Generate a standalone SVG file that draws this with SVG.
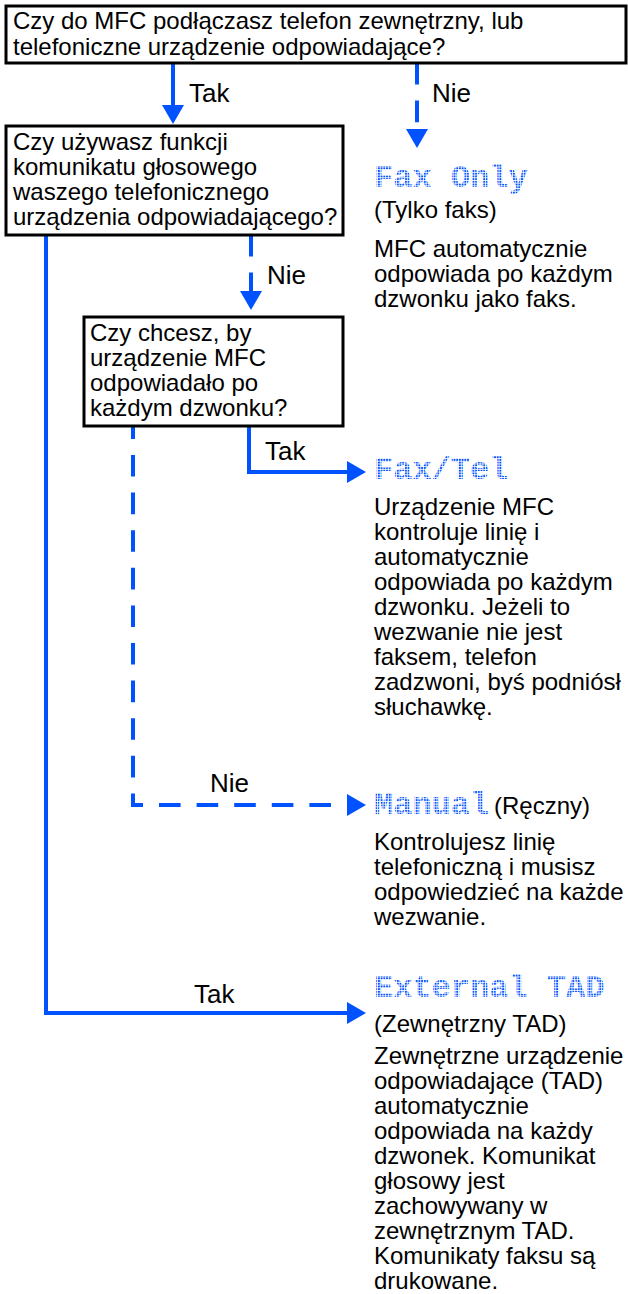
<svg xmlns="http://www.w3.org/2000/svg" width="628" height="1294" viewBox="0 0 628 1294">
<style>
.box{fill:#fff;stroke:#000;stroke-width:3}
.ln{fill:none;stroke:#0052ff;stroke-width:4}
.dash{stroke-dasharray:21.6 16}
.t{font-family:"Liberation Sans",Arial,sans-serif;font-size:24px;fill:#000}
.lb{font-family:"Liberation Sans",Arial,sans-serif;font-size:26px;fill:#000}
.m{font-family:"Liberation Mono","DejaVu Sans Mono",monospace;font-size:32px;font-weight:bold;fill:url(#dots)}
</style>
<defs>
<pattern id="dots" width="2.7" height="2.7" patternUnits="userSpaceOnUse"><rect width="1.9" height="1.9" fill="#0a55ff"/></pattern>
<marker id="ah" viewBox="0 0 19 22" refX="0" refY="11" markerWidth="19" markerHeight="22" markerUnits="userSpaceOnUse" orient="auto"><path d="M0,0 L19,11 L0,22 z" fill="#0052ff"/></marker>
</defs>
<g id="connectors">
<path class="ln" d="M173,63 V105" marker-end="url(#ah)"/>
<path class="ln dash" d="M417,63 V129" marker-end="url(#ah)"/>
<path class="ln dash" d="M251,235 V291" marker-end="url(#ah)"/>
<path class="ln" d="M249,426 V472 H347" marker-end="url(#ah)"/>
<path class="ln dash" d="M133,417.4 V805 H347" marker-end="url(#ah)"/>
<path class="ln" d="M46,235 V1013 H347" marker-end="url(#ah)"/>
</g>
<g id="labels">
<text class="lb" x="189" y="102">Tak</text>
<text class="lb" x="432" y="102">Nie</text>
<text class="lb" x="267" y="284">Nie</text>
<text class="lb" x="265" y="460">Tak</text>
<text class="lb" x="210" y="792">Nie</text>
<text class="lb" x="194" y="1003">Tak</text>
</g>
<g id="q1">
<rect class="box" x="6" y="6" width="620" height="57"/>
<text class="t" x="13" y="29">Czy do MFC podłączasz telefon zewnętrzny, lub</text>
<text class="t" x="13" y="55">telefoniczne urządzenie odpowiadające?</text>
</g>
<g id="q2">
<rect class="box" x="6" y="126" width="337" height="109"/>
<text class="t" x="13" y="150">Czy używasz funkcji</text>
<text class="t" x="13" y="175">komunikatu głosowego</text>
<text class="t" x="13" y="200">waszego telefonicznego</text>
<text class="t" x="13" y="225">urządzenia odpowiadającego?</text>
</g>
<g id="q3">
<rect class="box" x="84" y="317" width="259" height="109"/>
<text class="t" x="90" y="341">Czy chcesz, by</text>
<text class="t" x="90" y="366">urządzenie MFC</text>
<text class="t" x="90" y="391">odpowiadało po</text>
<text class="t" x="90" y="416">każdym dzwonku?</text>
</g>
<g id="faxonly">
<text class="m" x="374" y="187">Fax Only</text>
<text class="t" x="374" y="218">(Tylko faks)</text>
<text class="t" x="374" y="257">MFC automatycznie</text>
<text class="t" x="374" y="282">odpowiada po każdym</text>
<text class="t" x="374" y="307">dzwonku jako faks.</text>
</g>
<g id="faxtel">
<text class="m" x="374" y="479">Fax/Tel</text>
<text class="t" x="374" y="515">Urządzenie MFC</text>
<text class="t" x="374" y="540">kontroluje linię i</text>
<text class="t" x="374" y="565">automatycznie</text>
<text class="t" x="374" y="590">odpowiada po każdym</text>
<text class="t" x="374" y="615">dzwonku. Jeżeli to</text>
<text class="t" x="374" y="640">wezwanie nie jest</text>
<text class="t" x="374" y="665">faksem, telefon</text>
<text class="t" x="374" y="690">zadzwoni, byś podniósł</text>
<text class="t" x="374" y="715">słuchawkę.</text>
</g>
<g id="manual">
<text class="m" x="374" y="814">Manual</text>
<text class="t" x="494" y="814">(Ręczny)</text>
<text class="t" x="374" y="850">Kontrolujesz linię</text>
<text class="t" x="374" y="875">telefoniczną i musisz</text>
<text class="t" x="374" y="900">odpowiedzieć na każde</text>
<text class="t" x="374" y="925">wezwanie.</text>
</g>
<g id="externaltad">
<text class="m" x="374" y="997">External TAD</text>
<text class="t" x="374" y="1032">(Zewnętrzny TAD)</text>
<text class="t" x="374" y="1064">Zewnętrzne urządzenie</text>
<text class="t" x="374" y="1089">odpowiadające (TAD)</text>
<text class="t" x="374" y="1114">automatycznie</text>
<text class="t" x="374" y="1139">odpowiada na każdy</text>
<text class="t" x="374" y="1164">dzwonek. Komunikat</text>
<text class="t" x="374" y="1189">głosowy jest</text>
<text class="t" x="374" y="1214">zachowywany w</text>
<text class="t" x="374" y="1239">zewnętrznym TAD.</text>
<text class="t" x="374" y="1264">Komunikaty faksu są</text>
<text class="t" x="374" y="1289">drukowane.</text>
</g>
</svg>
